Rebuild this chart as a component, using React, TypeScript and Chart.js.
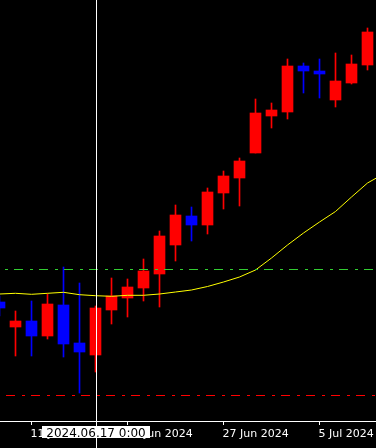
import React, { useEffect, useRef } from "react";
import { Chart, registerables } from "chart.js";

Chart.register(...registerables);

// Daily bars, 2024.06.07 .. 2024.07.10 (price units as on the chart)
const DATES = [
  "2024.06.07", "2024.06.10", "2024.06.11", "2024.06.12", "2024.06.13", "2024.06.14",
  "2024.06.17", "2024.06.18", "2024.06.19", "2024.06.20", "2024.06.21", "2024.06.24",
  "2024.06.25", "2024.06.26", "2024.06.27", "2024.06.28", "2024.07.01", "2024.07.02",
  "2024.07.03", "2024.07.04", "2024.07.05", "2024.07.08", "2024.07.09", "2024.07.10",
];
const OPEN = [119, 94, 100, 85, 116, 78, 66, 111, 123, 133, 147, 176, 205, 196, 228, 243, 268, 305, 309, 355, 350, 321, 338, 356];
const HIGH = [125, 110, 120, 127, 154, 138, 115, 143, 142, 162, 190, 216, 214, 233, 250, 263, 322, 318, 362, 358, 362, 368, 366, 393];
const LOW = [105, 65, 65, 82, 64, 28, 49, 97, 104, 120, 114, 160, 180, 187, 212, 215, 268, 293, 302, 328, 323, 314, 337, 351];
const CLOSE = [113, 100, 85, 117, 77, 69, 113, 125, 134, 150, 185, 206, 196, 229, 245, 260, 308, 311, 355, 350, 347, 340, 357, 389];
// moving average (one more point than the visible candles: the next bar)
const MA = [127, 127.7, 126.7, 127.7, 128.7, 126.3, 125.3, 124.7, 125.7, 125.7, 127, 129, 131, 134.5, 139, 144, 151, 163, 176, 188, 199, 209.5, 224, 238, 247];

const TICK_INDEX = [2, 8, 14, 20];
const TICK_LABELS = ["11 Jun 2024", "19 Jun 2024", "27 Jun 2024", "5 Jul 2024"];
const LEVELS = [151.5, 25.5];
const LEVEL_COLORS = ["#32cd32", "#ff0000"];
const LEVEL_DASH_OFFSET = [11, 19];
const CROSSHAIR_INDEX = 6;
const CROSSHAIR_LABEL = "2024.06.17 0:00";

const UP = "#ff0000";
const DOWN = "#0000ff";

const overlay = {
  id: "mt4overlay",
  afterDraw(chart: any) {
    const ctx = chart.ctx;
    const xs = chart.scales.x;
    const ys = chart.scales.y;
    const area = chart.chartArea;
    const W = chart.width;
    const H = chart.height;
    ctx.save();
    // horizontal levels
    LEVELS.forEach((lv, i) => {
      const y = ys.getPixelForValue(lv);
      ctx.beginPath();
      ctx.strokeStyle = LEVEL_COLORS[i];
      ctx.lineWidth = 1;
      ctx.setLineDash([9, 7, 3, 6]);
      ctx.lineDashOffset = LEVEL_DASH_OFFSET[i];
      ctx.moveTo(0, y);
      ctx.lineTo(W, y);
      ctx.stroke();
    });
    ctx.setLineDash([]);
    // axis line
    const ay = area.bottom + 0.5;
    ctx.strokeStyle = "#ffffff";
    ctx.beginPath();
    ctx.moveTo(0, ay);
    ctx.lineTo(W, ay);
    ctx.stroke();
    // ticks + labels
    ctx.fillStyle = "#ffffff";
    ctx.font = "11px 'DejaVu Sans'";
    ctx.textAlign = "left";
    ctx.textBaseline = "alphabetic";
    TICK_INDEX.forEach((ti, k) => {
      const px = Math.floor(xs.getPixelForValue(ti)) + 0.5;
      ctx.beginPath();
      ctx.moveTo(px, area.bottom);
      ctx.lineTo(px, area.bottom + 4);
      ctx.stroke();
      ctx.fillText(TICK_LABELS[k], px - 1, area.bottom + 16);
    });
    // crosshair
    const cx = Math.round(xs.getPixelForValue(CROSSHAIR_INDEX)) + 0.5;
    ctx.beginPath();
    ctx.moveTo(cx, 0);
    ctx.lineTo(cx, H);
    ctx.stroke();
    // crosshair label
    ctx.font = "12px 'DejaVu Sans'";
    const tw = ctx.measureText(CROSSHAIR_LABEL).width;
    const bw = Math.round(tw) + 9;
    const bx = cx - 0.5 - Math.ceil(bw / 2);
    ctx.fillStyle = "#ffffff";
    ctx.fillRect(bx, area.bottom + 5, bw, 12);
    ctx.fillStyle = "#000000";
    ctx.textAlign = "center";
    ctx.fillText(CROSSHAIR_LABEL, cx - 0.5, area.bottom + 16);
    ctx.restore();
  },
};

export default function App() {
  const ref = useRef<HTMLCanvasElement | null>(null);
  useEffect(() => {
    document.body.style.margin = "0";
    document.body.style.background = "#000";
    const canvas = ref.current;
    if (!canvas) return;
    const colors = OPEN.map((o, i) => (CLOSE[i] >= o ? UP : DOWN));
    const chart = new Chart(canvas, {
      type: "bar",
      data: {
        datasets: [
          {
            type: "line",
            label: "MA",
            data: MA.map((v, i) => ({ x: i, y: v })),
            borderColor: "#ffff00",
            borderWidth: 1,
            pointRadius: 0,
            tension: 0,
            order: 0,
          } as any,
          {
            type: "bar",
            label: "body",
            data: OPEN.map((o, i) => ({ x: i, y: [o, CLOSE[i]] })),
            backgroundColor: colors,
            borderWidth: 0,
            barThickness: 11,
            grouped: false,
            order: 1,
          } as any,
          {
            type: "bar",
            label: "wick",
            data: LOW.map((l, i) => ({ x: i, y: [l, HIGH[i]] })),
            backgroundColor: colors,
            borderWidth: 0,
            barThickness: 1,
            grouped: false,
            order: 2,
          } as any,
        ],
      },
      options: {
        animation: false,
        responsive: true,
        maintainAspectRatio: false,
        events: [],
        layout: { padding: { left: 0, right: 0, top: 0, bottom: 27 } },
        plugins: { legend: { display: false }, tooltip: { enabled: false } },
        scales: {
          x: {
            type: "linear",
            min: 0.03125,
            max: 23.53125,
            offset: false,
            bounds: "ticks",
            grid: { offset: false },
            display: false,
          },
          y: { type: "linear", min: 0, max: 421, display: false },
        },
      },
      plugins: [overlay],
    });
    return () => chart.destroy();
  }, []);
  return (
    <div style={{ position: "fixed", left: 0, top: 0, width: 376, height: 448, background: "#000" }}>
      <canvas ref={ref} />
    </div>
  );
}
